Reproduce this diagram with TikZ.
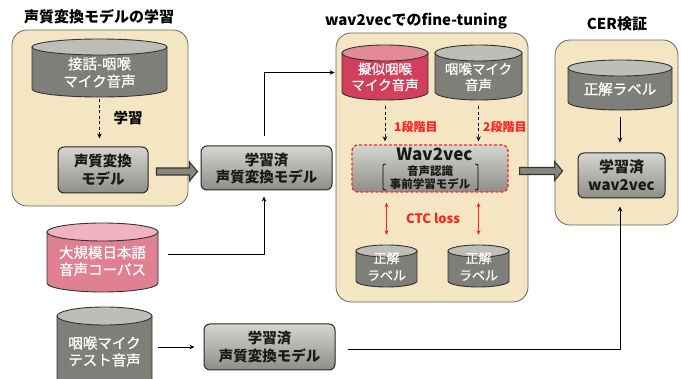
\documentclass[tikz,border=0pt]{standalone}
\usepackage{fontspec}
\setmainfont{Noto Sans CJK JP}
\newfontfamily\cylfont{Noto Sans CJK JP}[FakeBold=0.7]
\usetikzlibrary{arrows.meta,calc}
\definecolor{panelfill}{HTML}{F4E5C3}
\definecolor{panelline}{HTML}{66665E}
\definecolor{graybody}{HTML}{7F7F7A}
\definecolor{graytop}{HTML}{BEBEB8}
\definecolor{redbody}{HTML}{D23F5C}
\definecolor{redtop}{HTML}{E28A9A}
\definecolor{pinkbody}{HTML}{E08192}
\definecolor{pinktop}{HTML}{EFB4C0}
\definecolor{boxtop}{HTML}{D6D6D0}
\definecolor{boxbot}{HTML}{8E8E88}
\definecolor{dred}{HTML}{FF2222}
\definecolor{blkfill}{HTML}{878780}
\tikzset{
 panel/.style={draw=panelline, fill=panelfill, line width=0.8pt, rounded corners=15pt, inner sep=0pt},
 box/.style={draw=black!85, line width=1pt, rounded corners=6pt, top color=boxtop, bottom color=boxbot, align=center, inner sep=0pt, text=black!90, font=\bfseries\fontsize{14.5}{18}\selectfont},
 titletext/.style={font=\bfseries\fontsize{15}{18}\selectfont, inner sep=0pt},
 cyltext/.style={text=white, align=center, inner sep=0pt},
 cylline/.style={draw=black!80, line width=0.9pt},
 arr/.style={-{Stealth[length=5pt,width=4.5pt]}, line width=0.7pt, black},
 darr/.style={arr, dash pattern=on 3pt off 2.5pt},
 rarr/.style={{Stealth[length=4.5pt,width=4pt]}-{Stealth[length=4.5pt,width=4pt]}, line width=0.6pt, dred},
 blk/.style={fill=blkfill, draw=black!80, line width=1.1pt, line join=miter},
 redlabel/.style={text=dred, font=\bfseries\fontsize{12}{14}\selectfont, inner sep=0pt},
}
% #1 name #2 x1 #3 x2 #4 ytop #5 ybot #6 ry #7 colour prefix
\newcommand{\mycyl}[7]{%
 \fill[#7body] (#2,{-(#4+#6)}) -- (#2,{-(#5-#6)}) arc[start angle=180,end angle=360,x radius={(#3-#2)/2},y radius=#6] -- (#3,{-(#4+#6)}) -- cycle;
 \draw[cylline] (#2,{-(#4+#6)}) -- (#2,{-(#5-#6)}) arc[start angle=180,end angle=360,x radius={(#3-#2)/2},y radius=#6] -- (#3,{-(#4+#6)});
 \filldraw[fill=#7top, cylline] ({(#2+#3)/2},{-(#4+#6)}) ellipse[x radius={(#3-#2)/2}, y radius=#6];
 \node[inner sep=0pt, minimum width={(#3-#2)*1pt}, minimum height={(#5-#4)*1pt}] (#1) at ({(#2+#3)/2},{-(#4+#5)/2}) {};
}
\newcommand{\blockarr}[2]{%
 \filldraw[blk] let \p1=#1, \p2=#2 in (\x1,\y1+3.5pt) -- (\x2-8pt,\y1+3.5pt) -- (\x2-8pt,\y1+9.5pt) -- (\x2,\y1) -- (\x2-8pt,\y1-9.5pt) -- (\x2-8pt,\y1-3.5pt) -- (\x1,\y1-3.5pt) -- cycle;
}
\begin{document}
\begin{tikzpicture}[x=1pt,y=1pt]
\useasboundingbox (0,0) rectangle (681,-379);
% panels
\node[panel, minimum width=176pt, minimum height=176pt] (P1) at (100,-118) {};
\node[panel, minimum width=192pt, minimum height=269pt] (P2) at (432,-167.5) {};
\node[panel, minimum width=123pt, minimum height=185pt] (P3) at (616.5,-132.5) {};
% titles
\node[titletext] (T1) at (99,-17) {声質変換モデルの学習};
\node[titletext] (T2) at (416,-21) {wav2vecでのfine-tuning};
\node[titletext] (T3) at (617,-24) {CER検証};
% panel 1
\mycyl{A1}{32}{167}{39}{97}{8}{gray}
\node[cyltext, font=\cylfont\fontsize{14.5}{17.5}\selectfont] (A1t) at (99.5,-72.5) {接話-咽喉\\マイク音声};
\node[box, minimum width=90pt, minimum height=46pt] (M1) at (103,-170) {声質変換\\モデル};
\draw[darr] ([yshift=-2pt]A1.south) -- ([yshift=8pt]A1.south |- M1.north);
\node[font=\bfseries\fontsize{14.5}{17}\selectfont, inner sep=0pt] (L0) at (128,-118) {学習};
% middle column
\node[box, minimum width=131pt, minimum height=44pt, font=\bfseries\fontsize{14.5}{17}\selectfont] (M2) at (266.5,-168) {学習済\\声質変換モデル};
\blockarr{([xshift=8pt,yshift=-1.5pt]M1.east)}{([xshift=-3pt]M2.west)}
\mycyl{K}{47}{158}{223}{292}{9}{pink}
\node[cyltext, font=\cylfont\fontsize{14.5}{17}\selectfont] (Kt) at (102.5,-261) {大規模日本語\\音声コーパス};
\mycyl{T}{57}{152}{307}{388}{9}{gray}
\node[cyltext, font=\cylfont\fontsize{14.5}{17}\selectfont] (Tt) at (104.5,-351.5) {咽喉マイク\\テスト音声};
\node[box, minimum width=131pt, minimum height=46pt, font=\bfseries\fontsize{14.5}{18.5}\selectfont] (M3) at (269.5,-347) {学習済\\声質変換モデル};
% panel 2
\mycyl{C1}{342}{428}{45}{100}{8}{red}
\node[cyltext, font=\cylfont\fontsize{13.5}{16}\selectfont] (C1t) at (385,-77) {擬似咽喉\\マイク音声};
\mycyl{C2}{435}{522}{45}{100}{8}{gray}
\node[cyltext, font=\cylfont\fontsize{13.5}{16}\selectfont] (C2t) at (478.5,-77) {咽喉マイク\\音声};
\node[box, draw=dred, dash pattern=on 3pt off 2pt, line width=1.3pt, minimum width=156pt, minimum height=47pt] (WV) at (430,-168.5) {};
\node[font=\bfseries\fontsize{17}{19}\selectfont, inner sep=0pt, text=black!90] (WVt) at (434.5,-154) {Wav2vec};
\node[font=\bfseries\fontsize{11.5}{13}\selectfont, inner sep=0pt, align=center, text=black!90] (WVs) at (430,-177.5) {音声認識\\事前学習モデル};
\draw[line width=0.8pt] (386,-164) .. controls (383,-164) .. (383,-168) -- (383,-186) .. controls (383,-190) .. (386,-190);
\draw[line width=0.8pt] (475,-164) .. controls (478,-164) .. (478,-168) -- (478,-186) .. controls (478,-190) .. (475,-190);
\draw[darr] ([yshift=-6pt]C1.south) -- ([yshift=3pt]C1.south |- WV.north);
\draw[darr] ([yshift=-6pt]C2.south) -- ([yshift=3pt]C2.south |- WV.north);
\node[redlabel, anchor=west] (S1) at (394,-127) {1段階目};
\node[redlabel, anchor=west] (S2) at (483,-127) {2段階目};
\mycyl{L1}{356}{417}{245}{287}{6}{gray}
\node[cyltext, font=\cylfont\fontsize{13}{17}\selectfont] (L1t) at (386.5,-266.5) {正解\\ラベル};
\mycyl{L2}{448}{509}{245}{287}{6}{gray}
\node[cyltext, font=\cylfont\fontsize{13}{17}\selectfont] (L2t) at (478.5,-266.5) {正解\\ラベル};
\draw[rarr] ([yshift=-10pt]L1.north |- WV.south) -- ([yshift=10pt]L1.north);
\draw[rarr] ([yshift=-10pt]L2.north |- WV.south) -- ([yshift=10pt]L2.north);
\node[redlabel, font=\bfseries\fontsize{13}{15}\selectfont] (CTC) at (433,-218) {CTC loss};
% panel 3
\mycyl{R}{568}{672}{60}{110}{8}{gray}
\node[cyltext, font=\cylfont\fontsize{14.5}{17}\selectfont] (Rt) at (620,-89) {正解ラベル};
\node[box, minimum width=87pt, minimum height=45pt, font=\bfseries\fontsize{15}{18}\selectfont] (W2) at (621.5,-175.5) {学習済\\wav2vec};
\draw[arr] ([yshift=-7pt]R.south) -- ([yshift=10pt]R.south |- W2.north);
\blockarr{([xshift=11pt,yshift=-2.5pt]WV.east)}{([xshift=8pt]P3.west)}
% connectors
\draw[arr] ([xshift=-2.5pt,yshift=9pt]M2.north) |- ([xshift=-1pt]P2.west |- C1.center);
\draw[arr] ([xshift=10pt,yshift=3.5pt]K.east) -| ([xshift=-2.5pt,yshift=-6pt]M2.south);
\draw[arr] ([xshift=6pt]T.east |- M3.west) -- ([xshift=-9pt]M3.west);
\draw[arr] ([xshift=12pt,yshift=-2pt]M3.east) -| ([xshift=-1.5pt,yshift=-8pt]W2.south);
\end{tikzpicture}
\end{document}
